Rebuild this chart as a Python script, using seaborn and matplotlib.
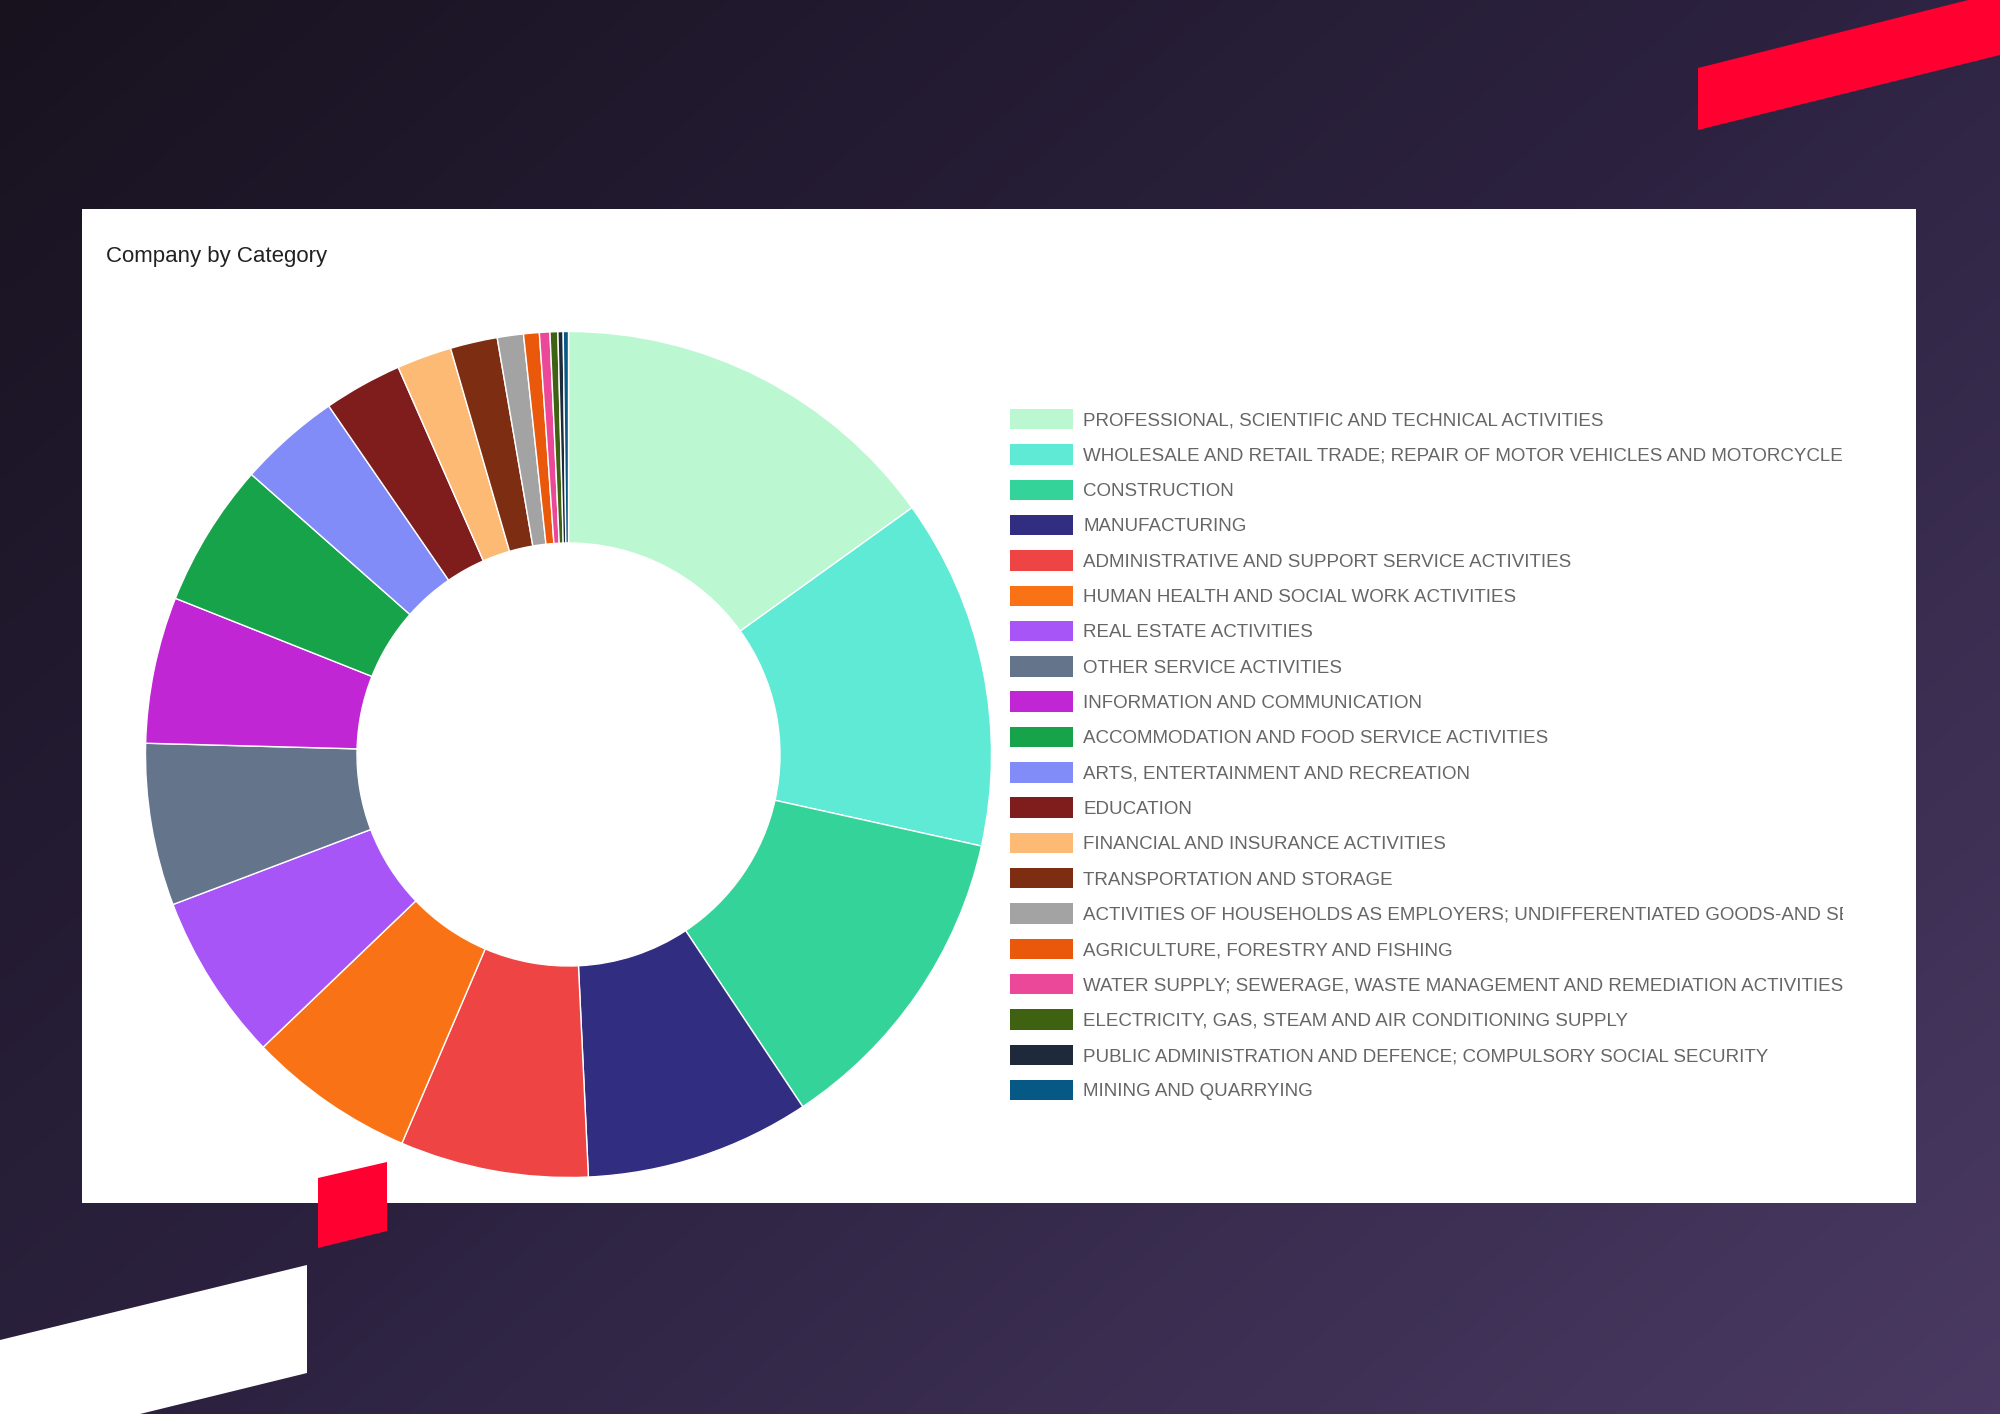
import matplotlib
matplotlib.use('Agg')
import matplotlib.pyplot as plt
import seaborn as sns
import numpy as np
from matplotlib.patches import Polygon, Rectangle, Patch
from matplotlib.colors import LinearSegmentedColormap
from matplotlib.transforms import Bbox

# Data (companies per category)
categories = [
    'PROFESSIONAL, SCIENTIFIC AND TECHNICAL ACTIVITIES',
    'WHOLESALE AND RETAIL TRADE; REPAIR OF MOTOR VEHICLES AND MOTORCYCLES',
    'CONSTRUCTION',
    'MANUFACTURING',
    'ADMINISTRATIVE AND SUPPORT SERVICE ACTIVITIES',
    'HUMAN HEALTH AND SOCIAL WORK ACTIVITIES',
    'REAL ESTATE ACTIVITIES',
    'OTHER SERVICE ACTIVITIES',
    'INFORMATION AND COMMUNICATION',
    'ACCOMMODATION AND FOOD SERVICE ACTIVITIES',
    'ARTS, ENTERTAINMENT AND RECREATION',
    'EDUCATION',
    'FINANCIAL AND INSURANCE ACTIVITIES',
    'TRANSPORTATION AND STORAGE',
    'ACTIVITIES OF HOUSEHOLDS AS EMPLOYERS; UNDIFFERENTIATED GOODS-AND SERVICES-PRODUCING ACTIVITIES',
    'AGRICULTURE, FORESTRY AND FISHING',
    'WATER SUPPLY; SEWERAGE, WASTE MANAGEMENT AND REMEDIATION ACTIVITIES',
    'ELECTRICITY, GAS, STEAM AND AIR CONDITIONING SUPPLY',
    'PUBLIC ADMINISTRATION AND DEFENCE; COMPULSORY SOCIAL SECURITY',
    'MINING AND QUARRYING',
]
counts = [151, 134, 122, 86, 72, 64, 64, 62, 56, 55, 39, 30, 21, 18, 10, 6, 4, 3, 2, 2]
colors = ['#bbf7d0', '#5eead4', '#34d399', '#312e81', '#ef4444', '#f97316', '#a855f7',
          '#64748b', '#c026d3', '#16a34a', '#818cf8', '#7f1d1d', '#fdba74', '#7c2d12',
          '#a3a3a3', '#ea580c', '#ec4899', '#3f6212', '#1e293b', '#075985']

W, H = 2000, 1414
sns.set_theme(style='white')
plt.rcParams['font.family'] = ['Liberation Sans', 'DejaVu Sans']
palette = sns.color_palette(colors)

fig = plt.figure(figsize=(W / 100, H / 100), dpi=100)

# dark purple gradient backdrop, drawn in pixel coords (y from top)
bg = fig.add_axes([0, 0, 1, 1], zorder=0)
yy, xx = np.mgrid[0:1:300j, 0:1:400j]
grad = 0.55 * xx + 0.45 * yy
cmap = LinearSegmentedColormap.from_list('bg', ['#18121f', '#2c2240', '#4a3a63'])
bg.imshow(grad, cmap=cmap, extent=(0, W, H, 0), aspect='auto', interpolation='bilinear')
bg.set_xlim(0, W)
bg.set_ylim(H, 0)
bg.axis('off')

# white card
bg.add_patch(Rectangle((82, 209), 1834, 994, facecolor='white', edgecolor='none', zorder=2))
# decorative shapes
red = '#ff0030'
bg.add_patch(Polygon([(1698, 68), (2000, -8), (2000, 55), (1698, 130)], closed=True,
                     facecolor=red, edgecolor='none', zorder=3))
bg.add_patch(Polygon([(318, 1178), (387, 1162), (387, 1231), (318, 1248)], closed=True,
                     facecolor=red, edgecolor='none', zorder=3))
bg.add_patch(Polygon([(0, 1340), (307, 1265), (307, 1373), (140, 1414), (0, 1414)], closed=True,
                     facecolor='white', edgecolor='none', zorder=3))

fig.text(106 / W, 1 - 262 / H, 'Company by Category', fontsize=16, color='#222222',
         va='baseline', ha='left')

# donut
cx, cy, R = 568.5, 754.5, 423
ax = fig.add_axes([(cx - R) / W, 1 - (cy + R) / H, 2 * R / W, 2 * R / H], zorder=5)
wedges, _ = ax.pie(counts, colors=palette, startangle=90, counterclock=False, radius=1,
                   wedgeprops=dict(width=0.5, edgecolor='white', linewidth=1))
ax.set_xlim(-1, 1)
ax.set_ylim(-1, 1)
ax.set_aspect('equal')
ax.axis('off')

handles = [Patch(facecolor=c, edgecolor='none') for c in palette]
leg = fig.legend(handles, categories, loc='upper left',
                 bbox_to_anchor=(1010 / W, 1 - 409 / H), frameon=False, fontsize=13.5,
                 handlelength=3.36, handleheight=1.3, handletextpad=0.55,
                 labelspacing=0.79, borderpad=0, borderaxespad=0, labelcolor='#666666')
leg.set_zorder(6)
clip = Bbox([[0, 0], [1843, H]])
for t in leg.get_texts():
    t.set_clip_on(True)
    t.set_clip_box(clip)

fig.savefig('out.png', dpi=100)
